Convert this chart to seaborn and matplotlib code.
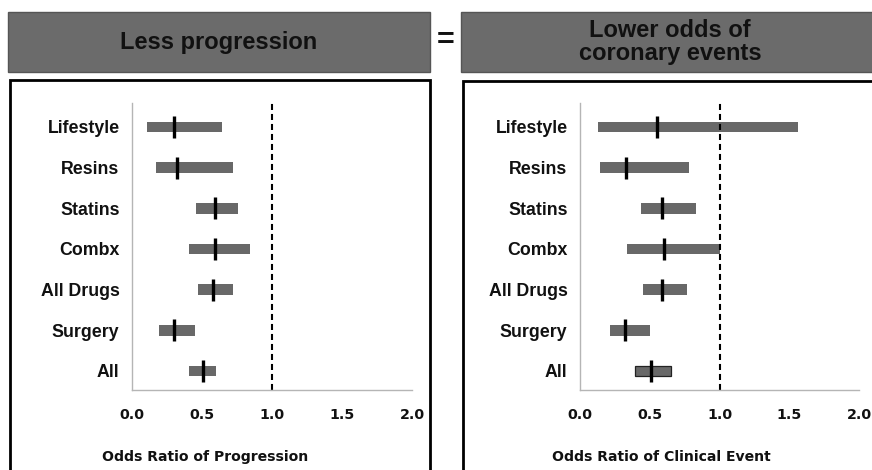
import matplotlib
matplotlib.use("Agg")
import matplotlib.pyplot as plt
from matplotlib.patches import Rectangle
import numpy as np
import pandas as pd
import seaborn as sns

# ---- data -------------------------------------------------------------
categories = ["Lifestyle", "Resins", "Statins", "Combx", "All Drugs", "Surgery", "All"]

# odds ratio of angiographic progression: interval and point estimate
prog_low = [0.11, 0.17, 0.46, 0.41, 0.47, 0.195, 0.41]
prog_high = [0.64, 0.72, 0.76, 0.84, 0.72, 0.45, 0.60]
prog_or = [0.30, 0.32, 0.59, 0.59, 0.58, 0.30, 0.51]

# odds ratio of clinical coronary events: interval and point estimate
event_low = [0.13, 0.14, 0.44, 0.34, 0.45, 0.215, 0.395]
event_high = [1.56, 0.78, 0.83, 1.00, 0.77, 0.50, 0.655]
event_or = [0.55, 0.33, 0.59, 0.60, 0.59, 0.32, 0.51]

x_ticks = [0.0, 0.5, 1.0, 1.5, 2.0]
x_tick_labels = ["0.0", "0.5", "1.0", "1.5", "2.0"]
headers = ["Less progression", "Lower odds of\ncoronary events"]
x_titles = ["Odds Ratio of Progression", "Odds Ratio of Clinical Event"]

# ---- style ------------------------------------------------------------
sns.set_theme(style="white")
plt.rcParams["font.family"] = ["Liberation Sans", "DejaVu Sans"]

W, H = 872, 470
fig = plt.figure(figsize=(W / 100, H / 100), dpi=100)
fig.patch.set_facecolor("white")


def fx(x):
    return x / W


def fy(y):
    return 1 - y / H


def frect(x0, y0, x1, y1, **kw):
    r = Rectangle((fx(x0), fy(y1)), fx(x1) - fx(x0), fy(y0) - fy(y1),
                  transform=fig.transFigure, **kw)
    fig.patches.append(r)


# header bars and panel frames
frect(8, 12, 430, 72, facecolor="#6b6b6b", edgecolor="#555555", lw=1)
frect(461, 12, 890, 72, facecolor="#6b6b6b", edgecolor="#555555", lw=1)
frect(10, 80, 430, 490, facecolor="none", edgecolor="black", lw=2)
frect(463, 81, 900, 490, facecolor="none", edgecolor="black", lw=2)

fig.text(fx(219), fy(42), headers[0], ha="center", va="center",
         fontsize=17, fontweight="bold", color="#111111")
fig.text(fx(670), fy(42), headers[1], ha="center", va="center",
         fontsize=17, fontweight="bold", color="#111111", linespacing=1.02)
fig.text(fx(445.5), fy(41), "=", ha="center", va="center",
         fontsize=22, fontweight="bold", color="#111111")

panels = [
    (prog_low, prog_high, prog_or, 132, 412, 205, False),
    (event_low, event_high, event_or, 580, 859, 661, True),
]

ax_top, ax_bot = 103, 390
for i, (low, high, est, xl, xr, title_x, outline_last) in enumerate(panels):
    ax = fig.add_axes([fx(xl), fy(ax_bot), fx(xr) - fx(xl), (ax_bot - ax_top) / H])
    df = pd.DataFrame({
        "cat": categories,
        "low": low,
        "span": np.array(high) - np.array(low),
        "est": est,
    })
    sns.barplot(data=df, y="cat", x="span", left=df["low"], orient="y",
                color="#686868", saturation=1, width=0.26, ax=ax)
    for p in ax.patches:
        p.set_facecolor("#686868")
        p.set_edgecolor("none")
    if outline_last:
        ax.patches[-1].set_edgecolor("#222222")
        ax.patches[-1].set_linewidth(0.9)

    ax.axvline(1.0, color="black", lw=1.5, linestyle=(0, (2.9, 1.9)), zorder=1)

    sns.scatterplot(data=df, x="est", y="cat", marker="|", s=250,
                    color="black", linewidth=2.4, ax=ax, zorder=5, legend=False)

    ax.set_xlim(0, 2.0)
    ax.set_ylim(6.47, -0.59)
    ax.set_xticks(x_ticks)
    ax.set_xticklabels(x_tick_labels, fontfamily="DejaVu Sans",
                       fontweight="bold", fontsize=10.3)
    ax.set_yticks(range(len(categories)))
    ax.set_yticklabels(categories, fontweight="bold", fontsize=12.8)
    ax.set_xlabel("")
    ax.set_ylabel("")
    ax.tick_params(axis="x", direction="in", length=4, width=1,
                   color="#b5b5b5", pad=13, labelcolor="#111111")
    ax.tick_params(axis="y", length=0, pad=9, labelcolor="#111111")
    for side in ("top", "right"):
        ax.spines[side].set_visible(False)
    for side in ("left", "bottom"):
        ax.spines[side].set_color("#b5b5b5")
        ax.spines[side].set_linewidth(1)
    ax.set_facecolor("none")

    fig.text(fx(title_x), fy(457), x_titles[i], ha="center", va="center",
             fontfamily="DejaVu Sans", fontweight="bold", fontsize=10.1,
             color="#111111")

fig.savefig("out.png", dpi=100)
